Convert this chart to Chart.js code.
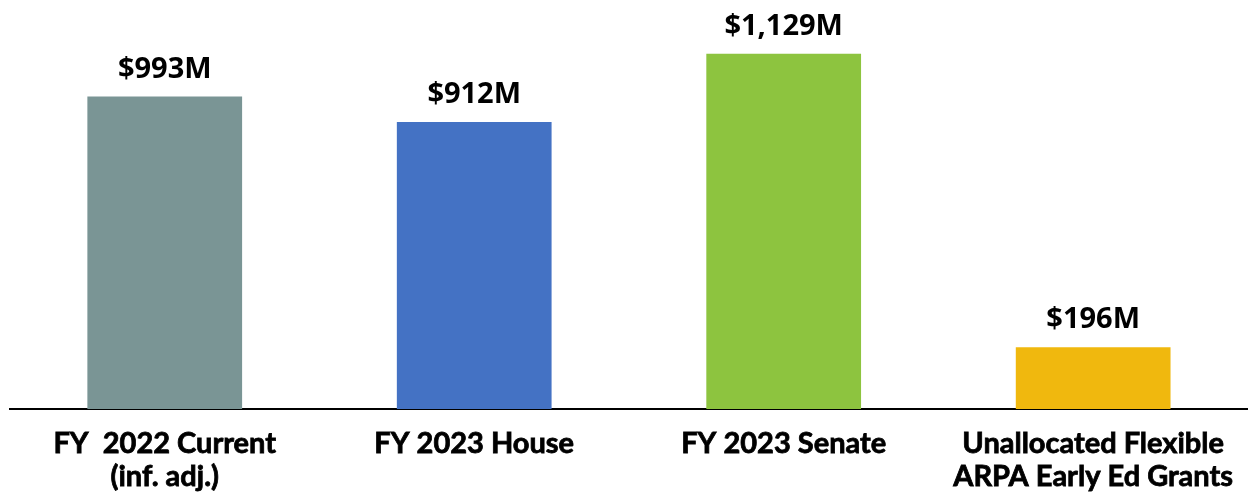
<!DOCTYPE html>
<html lang="en">

<head>
    <meta charset="UTF-8">
    <title>Early Ed funding</title>
    <script src="https://cdn.jsdelivr.net/npm/chart.js"></script>
    <style>
        html, body { margin: 0; padding: 0; background: #fff; overflow: hidden; }
    </style>
</head>

<body>
    <canvas id="myChart" width="1251" height="495"></canvas>
    <script>
        // data
        const categories = [
            ['FY  2022 Current', '(inf. adj.)'],
            ['FY 2023 House'],
            ['FY 2023 Senate'],
            ['Unallocated Flexible', 'ARPA Early Ed Grants']
        ];
        const amounts = [993, 912, 1129, 196];
        const valueLabels = ['$993M', '$912M', '$1,129M', '$196M'];
        const barColors = ['#7a9595', '#4472c4', '#8dc43f', '#f0b80e'];

        // draws the $ labels above each bar
        const topLabels = {
            id: 'topLabels',
            afterDatasetsDraw(chart) {
                const ctx = chart.ctx;
                const meta = chart.getDatasetMeta(0);
                ctx.save();
                ctx.fillStyle = '#000';
                ctx.font = 'bold 29px "Open Sans"';
                ctx.textAlign = 'center';
                ctx.textBaseline = 'alphabetic';
                meta.data.forEach((bar, i) => {
                    ctx.fillText(valueLabels[i], bar.x, bar.y - 19);
                });
                ctx.restore();
            }
        };

        const ctx = document.getElementById('myChart').getContext('2d');
        const myChart = new Chart(ctx, {
            type: 'bar',
            plugins: [topLabels],
            data: {
                labels: categories,
                datasets: [{
                    data: amounts,
                    backgroundColor: barColors,
                    barPercentage: 1,
                    categoryPercentage: 0.5
                }]
            },
            options: {
                responsive: false,
                animation: false,
                layout: { padding: { left: 10, right: 0, top: 0, bottom: 0 } },
                scales: {
                    x: {
                        grid: { display: false, drawTicks: false },
                        border: { display: true, color: '#000', width: 2 },
                        ticks: {
                            color: '#000',
                            textStrokeColor: '#000',
                            textStrokeWidth: 0.8,
                            padding: 18,
                            font: { family: 'Lato', weight: 'bold', size: 29, lineHeight: 1.14 }
                        },
                        afterFit: s => { s.height = 86; }
                    },
                    y: {
                        display: false,
                        min: 0,
                        max: 1300
                    }
                },
                plugins: {
                    legend: { display: false },
                    tooltip: { enabled: false }
                }
            }
        });
    </script>
</body>

</html>
